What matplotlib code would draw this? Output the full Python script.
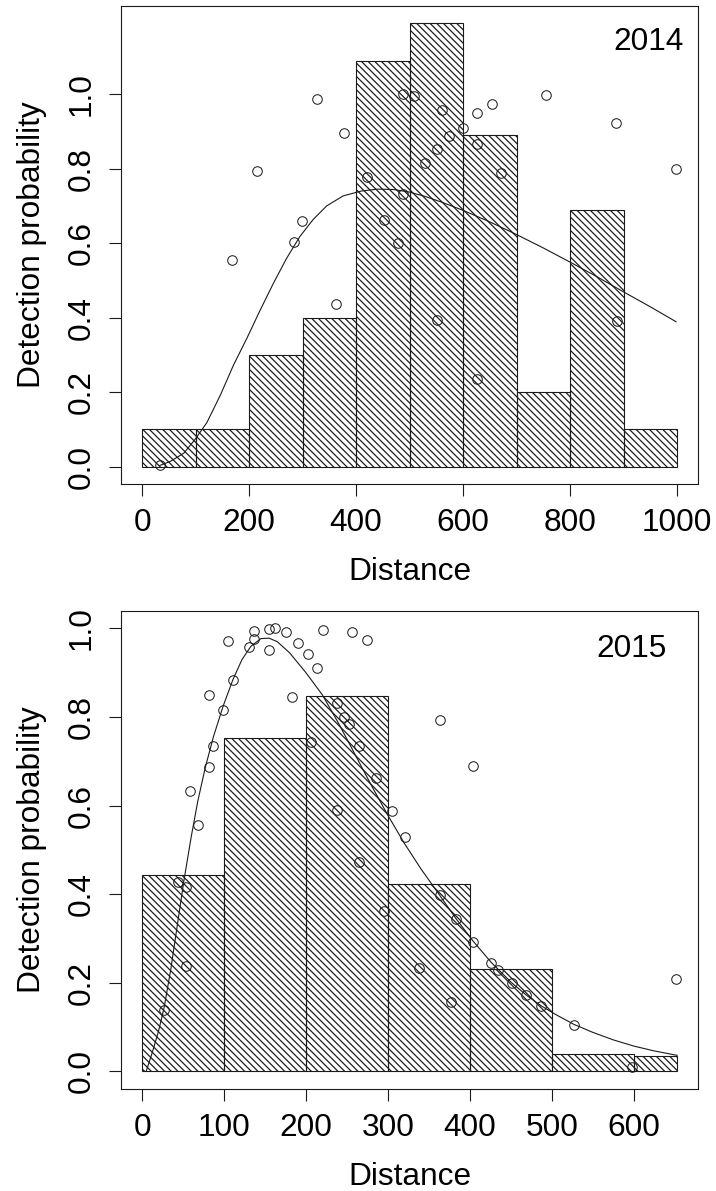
import numpy as np
import matplotlib
matplotlib.use("Agg")
import matplotlib.pyplot as plt
from matplotlib.transforms import ScaledTranslation

# ------------------------------------------------------------------ data
# 2014
bin_edges_2014 = [0, 100, 200, 300, 400, 500, 600, 700, 800, 900, 1000]
bar_heights_2014 = [0.10, 0.10, 0.30, 0.40, 1.09, 1.19, 0.89, 0.20, 0.69, 0.10]
dist_2014 = [33, 168, 214, 283, 299, 327, 363, 377, 420, 452, 478, 488, 488,
             508, 528, 551, 551, 561, 574, 600, 626, 626, 626, 654, 670, 755,
             886, 887, 998]
prob_2014 = [0.004, 0.555, 0.793, 0.603, 0.659, 0.988, 0.436, 0.897, 0.777,
             0.662, 0.600, 0.733, 1.000, 0.996, 0.814, 0.853, 0.394, 0.957,
             0.889, 0.910, 0.950, 0.866, 0.236, 0.974, 0.788, 0.998, 0.922,
             0.391, 0.798]
curve_x_2014 = [33, 53, 78, 99, 121, 146, 171, 196, 220, 245, 270, 295, 320,
                345, 376, 410, 440, 470, 500, 530, 560, 600, 650, 700, 750,
                800, 850, 900, 950, 998]
curve_y_2014 = [0.003, 0.014, 0.036, 0.073, 0.118, 0.191, 0.273, 0.345, 0.418,
                0.491, 0.559, 0.618, 0.664, 0.700, 0.727, 0.740, 0.745, 0.744,
                0.737, 0.725, 0.710, 0.688, 0.657, 0.623, 0.587, 0.549, 0.510,
                0.469, 0.429, 0.389]
xticks_2014 = [0, 200, 400, 600, 800, 1000]

# 2015
bin_edges_2015 = [0, 100, 200, 300, 400, 500, 600, 653]
bar_heights_2015 = [0.444, 0.752, 0.848, 0.423, 0.232, 0.039, 0.035]
dist_2015 = [27, 44, 54, 54, 59, 68, 82, 82, 87, 99, 105, 111, 130, 136, 136,
             155, 155, 162, 176, 183, 190, 202, 206, 213, 221, 238, 247, 252,
             238, 256, 265, 265, 274, 285, 295, 305, 321, 338, 363, 363, 377,
             383, 404, 404, 426, 435, 451, 469, 487, 527, 598, 652]
prob_2015 = [0.139, 0.427, 0.416, 0.237, 0.634, 0.557, 0.686, 0.849, 0.734,
             0.816, 0.971, 0.884, 0.959, 0.976, 0.995, 0.998, 0.952, 1.000,
             0.992, 0.845, 0.968, 0.943, 0.743, 0.911, 0.997, 0.831, 0.801,
             0.785, 0.589, 0.993, 0.734, 0.472, 0.973, 0.662, 0.363, 0.587,
             0.530, 0.233, 0.793, 0.398, 0.156, 0.343, 0.689, 0.292, 0.244,
             0.229, 0.199, 0.172, 0.148, 0.104, 0.009, 0.208]
curve_x_2015 = [5, 12, 20, 27, 35, 43, 51, 60, 68, 77, 87, 99, 111, 122, 133,
                145, 155, 165, 180, 200, 220, 240, 260, 280, 300, 320, 340,
                363, 383, 404, 426, 451, 469, 487, 505, 527, 550, 575, 600,
                625, 653]
curve_y_2015 = [0.0, 0.04, 0.09, 0.145, 0.23, 0.33, 0.43, 0.53, 0.61, 0.685,
                0.755, 0.825, 0.885, 0.93, 0.96, 0.977, 0.978, 0.97, 0.945,
                0.90, 0.85, 0.785, 0.715, 0.645, 0.578, 0.515, 0.458, 0.398,
                0.345, 0.294, 0.246, 0.200, 0.172, 0.148, 0.128, 0.106, 0.088,
                0.071, 0.057, 0.046, 0.036]
xticks_2015 = [0, 100, 200, 300, 400, 500, 600]

yticks = [0.0, 0.2, 0.4, 0.6, 0.8, 1.0]

# ------------------------------------------------------------------ style
DPI = 80
W, H = 716, 1191
INK = "#1a1a1a"
FS = 28.5
HATCH = chr(92) * 4   # dense descending diagonal lines

plt.rcParams["font.family"] = ["Liberation Sans", "DejaVu Sans"]
plt.rcParams["hatch.linewidth"] = 1.1

fig = plt.figure(figsize=(W / DPI, H / DPI), dpi=DPI)


def pt(px):
    return px * 72.0 / DPI


def add_axes_px(left, top, right, bottom):
    return fig.add_axes([left / W, 1 - bottom / H, (right - left) / W,
                         (bottom - top) / H])


def r_lim(lo, hi):
    d = (hi - lo) * 0.04
    return lo - d, hi + d


def draw_panel(ax, edges, heights, dist, prob, cx, cy, xticks, year,
               year_inset_px, year_base_px, ax_w_px, ax_h_px):
    widths = np.diff(edges)
    ax.bar(edges[:-1], heights, width=widths, align="edge", fill=False,
           hatch=HATCH, edgecolor=INK, linewidth=1.0, zorder=1)
    ax.plot(cx, cy, color=INK, lw=1.0, zorder=2)
    ax.plot(dist, prob, ls="none", marker="o", ms=8.6, mfc="none", mec=INK,
            mew=0.9, zorder=3)
    ax.set_xlim(*r_lim(edges[0], edges[-1]))
    ax.set_ylim(*r_lim(0, max(max(heights), 1.0)))
    ax.set_xticks(xticks)
    ax.set_xticklabels([str(t) for t in xticks])
    ax.set_yticks(yticks)
    ax.set_yticklabels([f"{t:.1f}" for t in yticks])
    ax.tick_params(axis="both", direction="out", length=pt(12), width=1.0,
                   color=INK, labelsize=FS, labelcolor="black")
    ax.tick_params(axis="x", pad=pt(12))
    ax.tick_params(axis="y", pad=pt(18.7))
    for lab in ax.get_yticklabels():
        lab.set_rotation(90)
        lab.set_rotation_mode("anchor")
        lab.set_horizontalalignment("center")
        lab.set_verticalalignment("baseline")
    for sp in ax.spines.values():
        sp.set_color(INK)
        sp.set_linewidth(1.0)
    ax.set_xlabel("Distance", fontsize=FS, va="baseline")
    ax.xaxis.set_label_coords(0.5, -95.7 / ax_h_px)
    ax.set_ylabel("Detection probability", fontsize=FS, rotation=90,
                  rotation_mode="anchor", ha="center", va="baseline")
    ax.yaxis.set_label_coords(-80.7 / ax_w_px, 0.5)
    tr = ax.transAxes + ScaledTranslation(-year_inset_px / DPI,
                                          -year_base_px / DPI,
                                          fig.dpi_scale_trans)
    ax.text(1, 1, year, transform=tr, ha="right", va="baseline", fontsize=FS,
            color="black")


L, R = 120.7, 698.5
ax1 = add_axes_px(L, 5.7, R, 484.3)
ax2 = add_axes_px(L, 610.7, R, 1089.0)

draw_panel(ax1, bin_edges_2014, bar_heights_2014, dist_2014, prob_2014,
           curve_x_2014, curve_y_2014, xticks_2014, "2014", 14.5, 44.3,
           R - L, 484.3 - 5.7)
draw_panel(ax2, bin_edges_2015, bar_heights_2015, dist_2015, prob_2015,
           curve_x_2015, curve_y_2015, xticks_2015, "2015", 31.5, 46.3,
           R - L, 1089.0 - 610.7)

fig.savefig("out.png", dpi=DPI, facecolor="white")
